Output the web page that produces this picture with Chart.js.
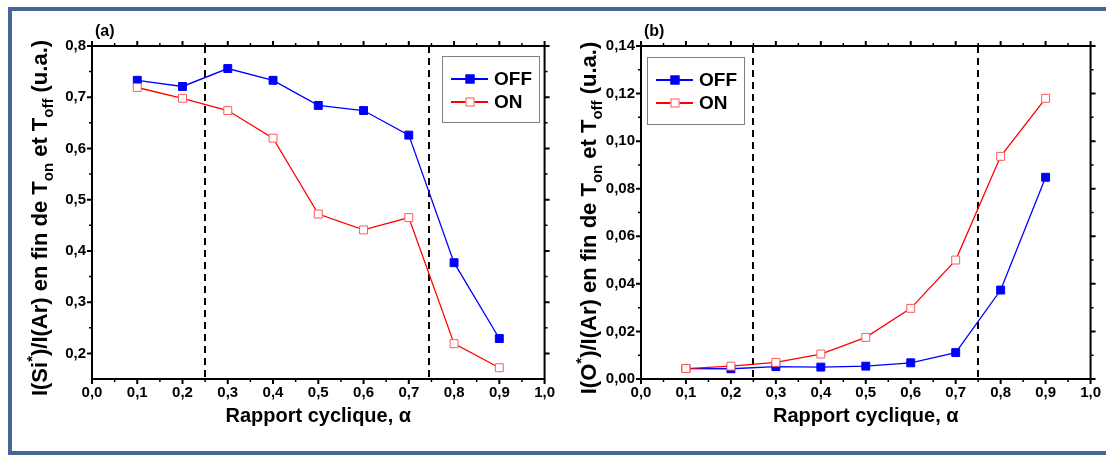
<!DOCTYPE html>
<html>
<head>
<meta charset="utf-8">
<script src="https://cdn.jsdelivr.net/npm/chart.js@4.4.1/dist/chart.umd.min.js"></script>
<style>
  html, body { margin: 0; padding: 0; background: #fff; overflow: hidden; width: 1106px; height: 455px; }
  #frame { position: absolute; left: 8px; top: 7px; width: 1120px; height: 440px; border: 4px solid #436896; }
  canvas { position: absolute; }
  #chartA { left: 12px; top: 11px; }
  #chartB { left: 560px; top: 11px; }
</style>
</head>
<body>
<div id="frame"></div>
<canvas id="chartA" width="548" height="439"></canvas>
<canvas id="chartB" width="546" height="439"></canvas>
<script>
// duty cycle values (x) shared by both panels
var alpha = [0.1, 0.2, 0.3, 0.4, 0.5, 0.6, 0.7, 0.8, 0.9];

// panel (a): I(Si*)/I(Ar)
var siOff = [0.733, 0.721, 0.756, 0.733, 0.684, 0.674, 0.626, 0.377, 0.229];
var siOn = [0.719, 0.698, 0.674, 0.620, 0.472, 0.441, 0.465, 0.219, 0.172];

// panel (b): I(O*)/I(Ar)
var oOff = [0.0044, 0.0043, 0.0052, 0.0050, 0.0054, 0.0068, 0.0111, 0.0374, 0.0848];
var oOn = [0.0044, 0.0054, 0.0070, 0.0105, 0.0175, 0.0297, 0.0500, 0.0936, 0.1180];

// ticks
var alphaTicks = [0, 0.1, 0.2, 0.3, 0.4, 0.5, 0.6, 0.7, 0.8, 0.9, 1.0];
var alphaMinor = [0.05, 0.15, 0.25, 0.35, 0.45, 0.55, 0.65, 0.75, 0.85, 0.95];
var siTicks = [0.2, 0.3, 0.4, 0.5, 0.6, 0.7, 0.8];
var siMinor = [0.25, 0.35, 0.45, 0.55, 0.65, 0.75];
var oTicks = [0, 0.02, 0.04, 0.06, 0.08, 0.10, 0.12, 0.14];
var oMinor = [0.01, 0.03, 0.05, 0.07, 0.09, 0.11, 0.13];

// dashed guide lines
var siGuides = [0.25, 0.745];
var oGuides = [0.25, 0.75];

var FONT = '"Liberation Sans", Arial, sans-serif';
var tickFont = { family: FONT, size: 15, weight: 'bold' };

function fmt(v, d) {
    return v.toFixed(d).replace('.', ',');
}

function points(ys) {
    return alpha.map(function (a, i) { return { x: a, y: ys[i] }; });
}

function drawRich(ctx, parts, cx, cy) {
    ctx.save();
    ctx.translate(cx, cy);
    ctx.rotate(-Math.PI / 2);
    var fontFor = function (p) { return 'bold ' + (p.s ? 15 : 22) + 'px ' + FONT; };
    var w = 0;
    parts.forEach(function (p) { ctx.font = fontFor(p); w += ctx.measureText(p.t).width; });
    var x = -w / 2;
    ctx.fillStyle = '#000';
    ctx.textBaseline = 'alphabetic';
    ctx.textAlign = 'left';
    parts.forEach(function (p) {
        ctx.font = fontFor(p);
        var dy = p.s === 'sup' ? -10 : (p.s === 'sub' ? 6 : 0);
        ctx.fillText(p.t, x, dy);
        x += ctx.measureText(p.t).width;
    });
    ctx.restore();
}

function decorations(cfg) {
    return {
        id: 'deco',
        beforeDatasetsDraw: function (chart) {
            var ctx = chart.ctx, a = chart.chartArea, sx = chart.scales.x;
            ctx.save();
            ctx.strokeStyle = '#000';
            ctx.lineWidth = 2;
            ctx.setLineDash([7, 5]);
            cfg.guides.forEach(function (g) {
                var px = Math.round(sx.getPixelForValue(g));
                ctx.beginPath();
                ctx.moveTo(px, a.top);
                ctx.lineTo(px, a.bottom);
                ctx.stroke();
            });
            ctx.restore();
        },
        afterDraw: function (chart) {
            var ctx = chart.ctx, a = chart.chartArea, sx = chart.scales.x, sy = chart.scales.y;
            ctx.save();
            ctx.strokeStyle = '#000';
            ctx.fillStyle = '#000';

            function xTick(v, len, w) {
                var px = sx.getPixelForValue(v);
                ctx.lineWidth = w;
                ctx.beginPath();
                ctx.moveTo(px, a.bottom); ctx.lineTo(px, a.bottom + len);
                ctx.moveTo(px, a.top); ctx.lineTo(px, a.top - len);
                ctx.stroke();
            }
            function yTick(v, len, w) {
                var py = sy.getPixelForValue(v);
                ctx.lineWidth = w;
                ctx.beginPath();
                ctx.moveTo(a.left, py); ctx.lineTo(a.left - len, py);
                ctx.moveTo(a.right, py); ctx.lineTo(a.right + len, py);
                ctx.stroke();
            }
            alphaTicks.forEach(function (v) { xTick(v, 5, 2); });
            alphaMinor.forEach(function (v) { xTick(v, 3, 1.5); });
            cfg.yTicks.forEach(function (v) { yTick(v, 5, 2); });
            cfg.yMinor.forEach(function (v) { yTick(v, 3, 1.5); });

            ctx.lineWidth = 2;
            ctx.strokeRect(a.left, a.top, a.right - a.left, a.bottom - a.top);

            // panel label
            ctx.font = 'bold 16px ' + FONT;
            ctx.textBaseline = 'middle';
            ctx.textAlign = 'left';
            ctx.fillText(cfg.panel, a.left + 3, 21);

            // x title
            ctx.font = 'bold 20px ' + FONT;
            ctx.textAlign = 'center';
            ctx.fillText('Rapport cyclique, \u03b1', (a.left + a.right) / 2, 405);

            // y title
            drawRich(ctx, cfg.yTitle, a.left - 45, 207);

            // legend
            var L = cfg.legend;
            ctx.lineWidth = 1;
            ctx.strokeStyle = '#808080';
            ctx.strokeRect(L.x + 0.5, L.y + 0.5, L.w, L.h);
            chart.data.datasets.slice().reverse().forEach(function (ds, i) {
                var ry = L.y + 23 + i * 23;
                ctx.strokeStyle = ds.borderColor;
                ctx.lineWidth = 2;
                ctx.beginPath();
                ctx.moveTo(L.x + 9, ry);
                ctx.lineTo(L.x + 46, ry);
                ctx.stroke();
                ctx.fillStyle = ds.pointBackgroundColor;
                ctx.fillRect(L.x + 23.5, ry - 4.5, 9, 9);
                ctx.strokeStyle = ds.pointBorderColor;
                ctx.lineWidth = 1;
                ctx.strokeRect(L.x + 24, ry - 4, 8, 8);
                ctx.fillStyle = '#000';
                ctx.font = 'bold 19px ' + FONT;
                ctx.textAlign = 'left';
                ctx.textBaseline = 'middle';
                ctx.fillText(ds.label, L.x + 52, ry + 1);
            });
            ctx.restore();
        }
    };
}

function makeChart(id, cfg) {
    return new Chart(document.getElementById(id), {
        type: 'line',
        data: {
            datasets: [{
                label: 'ON',
                data: points(cfg.on),
                borderColor: '#ff0000',
                borderWidth: 1.3,
                pointStyle: 'rect',
                pointRadius: 5.6,
                pointBorderWidth: 1,
                pointBackgroundColor: '#ffffff',
                pointBorderColor: '#ff5a5a',
                tension: 0,
            }, {
                label: 'OFF',
                data: points(cfg.off),
                borderColor: '#0000ff',
                borderWidth: 1.3,
                pointStyle: 'rect',
                pointRadius: 5.6,
                pointBorderWidth: 1,
                pointBackgroundColor: '#0000ff',
                pointBorderColor: '#0000ff',
                tension: 0,
            }],
        },
        options: {
            responsive: false,
            animation: false,
            events: [],
            layout: { padding: { left: 0, top: 35, right: cfg.padRight, bottom: 0 } },
            plugins: { legend: { display: false }, tooltip: { enabled: false } },
            scales: {
                x: {
                    type: 'linear',
                    min: 0,
                    max: 1,
                    afterFit: function (s) { s.height = 71; },
                    afterBuildTicks: function (s) { s.ticks = alphaTicks.map(function (v) { return { value: v }; }); },
                    grid: { display: false, drawTicks: false },
                    border: { display: false },
                    ticks: { padding: 5, maxRotation: 0, autoSkip: false, color: '#000', font: tickFont,
                        callback: function (v) { return fmt(v, 1); } },
                },
                y: {
                    type: 'linear',
                    min: cfg.yMin,
                    max: cfg.yMax,
                    afterFit: function (s) { s.width = cfg.yWidth; },
                    afterBuildTicks: function (s) { s.ticks = cfg.yTicks.map(function (v) { return { value: v }; }); },
                    grid: { display: false, drawTicks: false },
                    border: { display: false },
                    ticks: { padding: 6, autoSkip: false, color: '#000', font: tickFont,
                        callback: function (v) { return fmt(v, cfg.digits); } },
                },
            },
        },
        plugins: [decorations(cfg)],
    });
}

makeChart('chartA', {
    panel: '(a)',
    off: siOff, on: siOn,
    yMin: 0.15, yMax: 0.8, yTicks: siTicks, yMinor: siMinor, digits: 1,
    guides: siGuides,
    yWidth: 80, padRight: 15,
    legend: { x: 430, y: 45, w: 97, h: 66 },
    yTitle: [{ t: 'I(Si' }, { t: '*', s: 'sup' }, { t: ')/I(Ar) en fin de T' }, { t: 'on', s: 'sub' },
        { t: ' et T' }, { t: 'off', s: 'sub' }, { t: ' (u.a.)' }],
});

makeChart('chartB', {
    panel: '(b)',
    off: oOff, on: oOn,
    yMin: 0, yMax: 0.14, yTicks: oTicks, yMinor: oMinor, digits: 2,
    guides: oGuides,
    yWidth: 81, padRight: 13,
    legend: { x: 87, y: 46, w: 97, h: 67 },
    yTitle: [{ t: 'I(O' }, { t: '*', s: 'sup' }, { t: ')/I(Ar) en fin de T' }, { t: 'on', s: 'sub' },
        { t: ' et T' }, { t: 'off', s: 'sub' }, { t: ' (u.a.)' }],
});
</script>
</body>
</html>
